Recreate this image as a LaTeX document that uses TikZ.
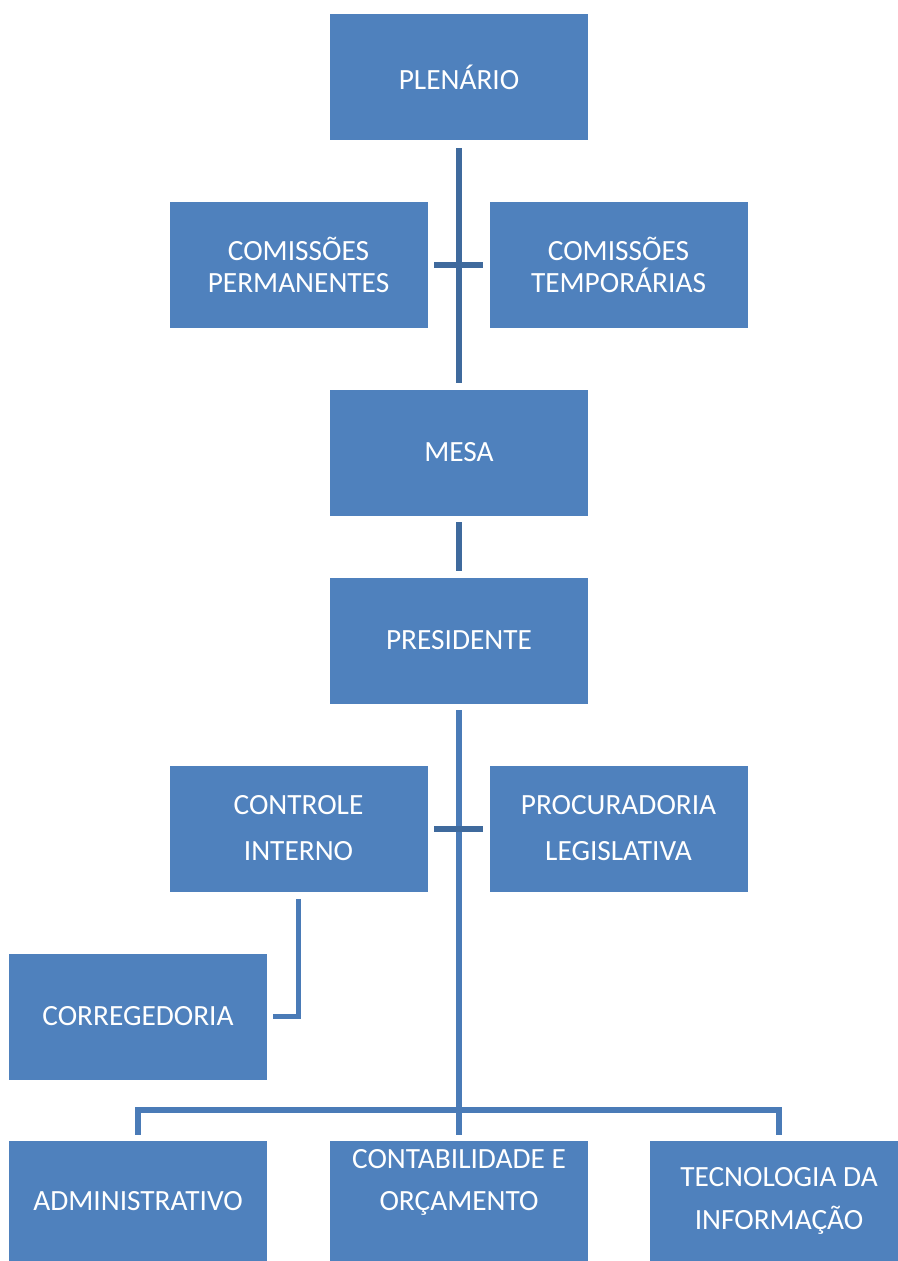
\documentclass[tikz,border=0pt]{standalone}
\usepackage{fontspec}
\setmainfont{Carlito}
\usetikzlibrary{calc}
\definecolor{boxblue}{HTML}{4F81BD}
\definecolor{linkdark}{HTML}{3F6A9D}
\definecolor{linklight}{HTML}{4A7BB7}
\begin{document}
\begin{tikzpicture}[x=0.75pt, y=-0.75pt,
    orgbox/.style={fill=boxblue, text=white, inner sep=0pt, align=center,
        minimum width=193.5pt, minimum height=94.5pt,
        font=\fontsize{22}{24}\selectfont},
    lowbox/.style={orgbox, minimum height=90pt},
    link/.style={draw=linkdark, line width=4.5pt},
    linklow/.style={draw=linklight, line width=4.2pt}]
    \useasboundingbox (0,0) rectangle (897,1261);

    % boxes
    \node[orgbox] (plen) at (459,77) {PLENÁRIO};
    \node[orgbox] (cperm) at (298.5,264.5) {COMISSÕES\\PERMANENTES};
    \node[orgbox] (ctemp) at (618.5,264.5) {COMISSÕES\\TEMPORÁRIAS};
    \node[orgbox] (mesa) at (459,452.5) {MESA};
    \node[orgbox] (pres) at (459,640.5) {PRESIDENTE};
    \node[orgbox, font=\fontsize{22}{34.5}\selectfont] (cint) at (298.5,828.5) {CONTROLE\\INTERNO};
    \node[orgbox, font=\fontsize{22}{34.5}\selectfont] (proc) at (618.5,828.5) {PROCURADORIA\\LEGISLATIVA};
    \node[orgbox] (corr) at (138,1016.5) {CORREGEDORIA};
    \node[lowbox] (adm) at (138,1201) {ADMINISTRATIVO};
    \node[lowbox, font=\fontsize{22}{31.5}\selectfont] (cont) at (459,1201) {CONTABILIDADE E\\ORÇAMENTO\\\mbox{}};
    \node[lowbox, font=\fontsize{22}{32}\selectfont] (tec) at (779,1201) {TECNOLOGIA DA\\INFORMAÇÃO};

    % connectors
    \draw[link, shorten <=6pt, shorten >=5pt] (plen.south) -- (mesa.north);
    \draw[link, shorten <=5pt, shorten >=4.5pt] (cperm.east) -- (ctemp.west);
    \draw[link, shorten <=5pt, shorten >=5pt] (mesa.south) -- (pres.north);
    \draw[linklow, shorten <=5pt, shorten >=4.5pt] (pres.south) -- (cont.north);
    \draw[link, shorten <=5pt, shorten >=4.5pt] (cint.east) -- (proc.west);
    \coordinate (bar) at (459,1110);
    \draw[linklow] ($(adm.north)+(0,-6)$) |- (bar) -| ($(tec.north)+(0,-6)$);
    \draw[linklow] ($(cint.south)+(0,7)$) |- ($(corr.east)+(6,0)$);
\end{tikzpicture}
\end{document}
